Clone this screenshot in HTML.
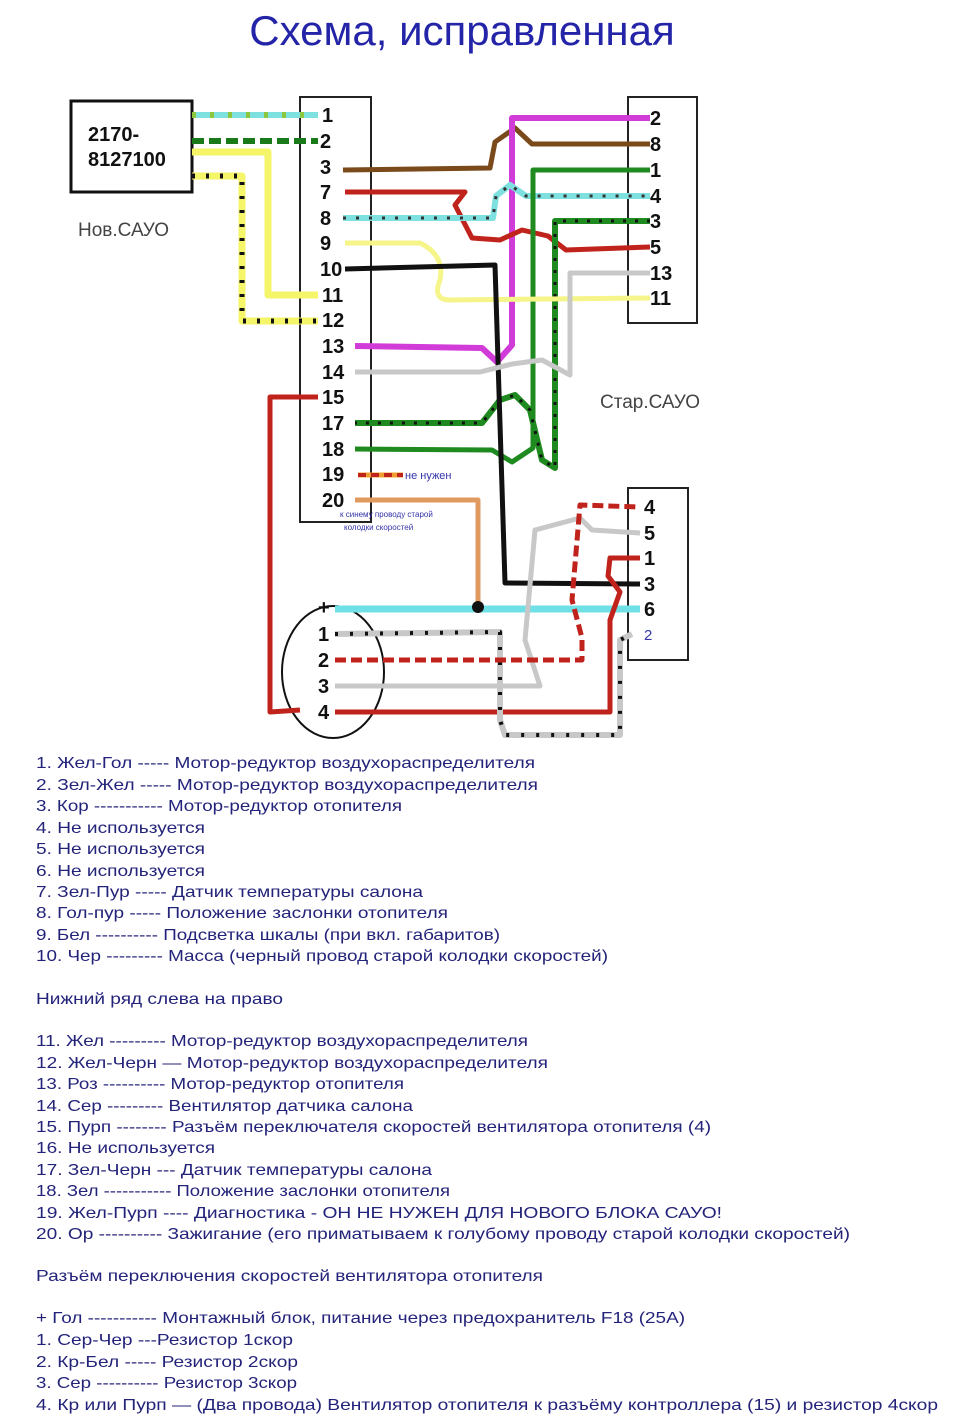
<!DOCTYPE html>
<html><head><meta charset="utf-8"><style>
html,body{margin:0;padding:0;background:#fff;}
svg{display:block}
.t{font-family:"Liberation Sans",sans-serif;font-size:16px;fill:#23237a;}
.p{font-family:"Liberation Sans",sans-serif;font-size:20px;fill:#111;font-weight:bold;}
</style></head><body>
<svg width="960" height="1418" viewBox="0 0 960 1418" xmlns="http://www.w3.org/2000/svg">
<text x="462" y="45" text-anchor="middle" font-family="Liberation Sans,sans-serif" font-size="42" fill="#2424a8">Схема, исправленная</text>

<rect x="71" y="101" width="121" height="91" fill="none" stroke="#111" stroke-width="3"/>
<text x="88" y="141" class="p" font-size="20">2170-</text>
<text x="88" y="166" class="p" font-size="20">8127100</text>
<text x="78" y="236" font-family="Liberation Sans,sans-serif" font-size="19" fill="#444">Нов.САУО</text>
<rect x="300" y="97" width="71" height="425" fill="none" stroke="#222" stroke-width="2"/>
<rect x="628" y="97" width="69" height="226" fill="none" stroke="#222" stroke-width="2"/>
<rect x="628" y="488" width="60" height="172" fill="none" stroke="#222" stroke-width="2"/>
<text x="600" y="408" font-family="Liberation Sans,sans-serif" font-size="19" fill="#444">Стар.САУО</text>
<ellipse cx="333" cy="672" rx="51" ry="66" fill="none" stroke="#111" stroke-width="2"/>

<g fill="none" stroke-linejoin="round">
<line x1="192" y1="115" x2="318" y2="115" stroke="#7fe0e0" stroke-width="6"/>
<line x1="192" y1="115" x2="318" y2="115" stroke="#8dc63f" stroke-width="6" stroke-dasharray="4 14"/>
<line x1="192" y1="141" x2="318" y2="141" stroke="#1a7a1a" stroke-width="6" stroke-dasharray="12 5"/>
<polyline points="192,152 268,152 268,295 318,295" stroke="#f5f56a" stroke-width="7"/>
<polyline points="192,176 242,176 242,321 318,321" stroke="#f5f56a" stroke-width="7"/>
<polyline points="192,176 242,176 242,321 318,321" stroke="#111" stroke-width="5" stroke-dasharray="3 11"/>
<polyline points="343,170 490,168 495,142 515,128 532,144 650,144" stroke="#7a4a1a" stroke-width="5"/>
<polyline points="650,118 512,118 512,345 497,362 482,348 355,346" stroke="#d13bd8" stroke-width="6"/>
<polyline points="345,192 465,192 455,205 472,238 500,240 522,230 548,236 566,250 650,247" stroke="#c0221c" stroke-width="5"/>
<polyline points="343,218 493,218 496,196 510,185 526,196 650,196" stroke="#7fe0e0" stroke-width="6"/>
<polyline points="343,218 493,218 496,196 510,185 526,196 650,196" stroke="#333" stroke-width="3" stroke-dasharray="3 10"/>
<polyline points="650,170 533,170 533,448 512,462 492,450 355,449" stroke="#1f8a1f" stroke-width="5"/>
<polyline points="650,221 555,221 555,468 542,460 530,410 515,395 500,400 482,423 355,423" stroke="#1f8a1f" stroke-width="6"/>
<polyline points="650,221 555,221 555,468 542,460 530,410 515,395 500,400 482,423 355,423" stroke="#111" stroke-width="3" stroke-dasharray="3 9"/>
<path d="M345,243 L420,243 Q445,255 440,280 Q432,300 450,300 L650,298" stroke="#f5f58a" stroke-width="5"/>
<polyline points="345,269 495,265 505,583 640,584" stroke="#111" stroke-width="5"/>
<polyline points="355,372 480,372 512,364 542,360 570,375 570,273 650,273" stroke="#c8c8c8" stroke-width="5"/>
<polyline points="318,397 270,397 270,712 300,710" stroke="#c0221c" stroke-width="5"/>
<line x1="358" y1="475" x2="403" y2="475" stroke="#f0a030" stroke-width="5"/>
<line x1="358" y1="475" x2="403" y2="475" stroke="#c0221c" stroke-width="4" stroke-dasharray="8 5"/>
<polyline points="355,500 478,500 478,607" stroke="#e09a60" stroke-width="5"/>
<line x1="335" y1="609" x2="640" y2="609" stroke="#6fe0e6" stroke-width="7"/>
<polyline points="335,712 610,712 610,620 620,592 608,576 610,558 640,558" stroke="#c0221c" stroke-width="5"/>
<polyline points="335,686 540,686 525,640 535,530 580,518 592,530 640,533" stroke="#c8c8c8" stroke-width="5"/>
<polyline points="335,634 500,632 500,720 505,735 620,735 620,640 632,634" stroke="#c8c8c8" stroke-width="6"/>
<polyline points="335,634 500,632 500,720 505,735 620,735 620,640 632,634" stroke="#111" stroke-width="4" stroke-dasharray="3 12"/>
<polyline points="335,660 582,660 582,638 572,600 580,505 640,507" stroke="#c0221c" stroke-width="5" stroke-dasharray="11 5"/>
</g>
<circle cx="478" cy="607" r="6" fill="#111"/>
<text x="405" y="479" font-family="Liberation Sans,sans-serif" font-size="11" fill="#3333aa">не нужен</text>
<text x="340" y="517" font-family="Liberation Sans,sans-serif" font-size="8" fill="#3333aa">к синему проводу старой</text>
<text x="344" y="530" font-family="Liberation Sans,sans-serif" font-size="8" fill="#3333aa">колодки скоростей</text>

<g class="p">
<text x="322" y="122">1</text><text x="320" y="148">2</text><text x="320" y="174">3</text><text x="320" y="199">7</text><text x="320" y="225">8</text><text x="320" y="250">9</text><text x="320" y="276">10</text><text x="322" y="302">11</text><text x="322" y="327">12</text><text x="322" y="353">13</text><text x="322" y="379">14</text><text x="322" y="404">15</text><text x="322" y="430">17</text><text x="322" y="456">18</text><text x="322" y="481">19</text><text x="322" y="507">20</text>
<text x="650" y="125">2</text><text x="650" y="151">8</text><text x="650" y="177">1</text><text x="650" y="203">4</text><text x="650" y="228">3</text><text x="650" y="254">5</text><text x="650" y="280">13</text><text x="650" y="305">11</text>
<text x="644" y="514">4</text><text x="644" y="540">5</text><text x="644" y="565">1</text><text x="644" y="591">3</text><text x="644" y="616">6</text><text x="644" y="640" font-size="15" font-weight="normal" fill="#3333aa">2</text>
<text x="318" y="614">+</text><text x="318" y="641">1</text><text x="318" y="667">2</text><text x="318" y="693">3</text><text x="318" y="719">4</text>
</g>

<g class="t">
<text x="36" y="768" textLength="499" lengthAdjust="spacingAndGlyphs">1. Жел-Гол ----- Мотор-редуктор воздухораспределителя</text>
<text x="36" y="790" textLength="502" lengthAdjust="spacingAndGlyphs">2. Зел-Жел ----- Мотор-редуктор воздухораспределителя</text>
<text x="36" y="811" textLength="366" lengthAdjust="spacingAndGlyphs">3. Кор ----------- Мотор-редуктор отопителя</text>
<text x="36" y="833" textLength="169" lengthAdjust="spacingAndGlyphs">4. Не используется</text>
<text x="36" y="854" textLength="169" lengthAdjust="spacingAndGlyphs">5. Не используется</text>
<text x="36" y="876" textLength="169" lengthAdjust="spacingAndGlyphs">6. Не используется</text>
<text x="36" y="897" textLength="387" lengthAdjust="spacingAndGlyphs">7. Зел-Пур ----- Датчик температуры салона</text>
<text x="36" y="918" textLength="412" lengthAdjust="spacingAndGlyphs">8. Гол-пур ----- Положение заслонки отопителя</text>
<text x="36" y="940" textLength="464" lengthAdjust="spacingAndGlyphs">9. Бел ---------- Подсветка шкалы (при вкл. габаритов)</text>
<text x="36" y="961" textLength="572" lengthAdjust="spacingAndGlyphs">10. Чер --------- Масса (черный провод старой колодки скоростей)</text>
<text x="36" y="1004" textLength="247" lengthAdjust="spacingAndGlyphs">Нижний ряд слева на право</text>
<text x="36" y="1046" textLength="492" lengthAdjust="spacingAndGlyphs">11. Жел --------- Мотор-редуктор воздухораспределителя</text>
<text x="36" y="1068" textLength="512" lengthAdjust="spacingAndGlyphs">12. Жел-Черн — Мотор-редуктор воздухораспределителя</text>
<text x="36" y="1089" textLength="368" lengthAdjust="spacingAndGlyphs">13. Роз ---------- Мотор-редуктор отопителя</text>
<text x="36" y="1111" textLength="377" lengthAdjust="spacingAndGlyphs">14. Сер --------- Вентилятор датчика салона</text>
<text x="36" y="1132" textLength="675" lengthAdjust="spacingAndGlyphs">15. Пурп -------- Разъём переключателя скоростей вентилятора отопителя (4)</text>
<text x="36" y="1153" textLength="179" lengthAdjust="spacingAndGlyphs">16. Не используется</text>
<text x="36" y="1175" textLength="396" lengthAdjust="spacingAndGlyphs">17. Зел-Черн --- Датчик температуры салона</text>
<text x="36" y="1196" textLength="414" lengthAdjust="spacingAndGlyphs">18. Зел ----------- Положение заслонки отопителя</text>
<text x="36" y="1218" textLength="686" lengthAdjust="spacingAndGlyphs">19. Жел-Пурп ---- Диагностика -  ОН НЕ НУЖЕН ДЛЯ НОВОГО БЛОКА САУО!</text>
<text x="36" y="1239" textLength="814" lengthAdjust="spacingAndGlyphs">20. Ор ---------- Зажигание (его приматываем к голубому проводу старой колодки скоростей)</text>
<text x="36" y="1281" textLength="507" lengthAdjust="spacingAndGlyphs">Разъём переключения скоростей вентилятора отопителя</text>
<text x="36" y="1323" textLength="649" lengthAdjust="spacingAndGlyphs">+ Гол ----------- Монтажный блок, питание через предохранитель F18 (25А)</text>
<text x="36" y="1345" textLength="257" lengthAdjust="spacingAndGlyphs">1. Сер-Чер ---Резистор 1скор</text>
<text x="36" y="1367" textLength="262" lengthAdjust="spacingAndGlyphs">2. Кр-Бел ----- Резистор 2скор</text>
<text x="36" y="1388" textLength="261" lengthAdjust="spacingAndGlyphs">3. Сер ---------- Резистор 3скор</text>
<text x="36" y="1410" textLength="902" lengthAdjust="spacingAndGlyphs">4. Кр или Пурп — (Два провода) Вентилятор отопителя к разъёму контроллера (15)  и резистор 4скор</text>
</g>
</svg>
</body></html>
